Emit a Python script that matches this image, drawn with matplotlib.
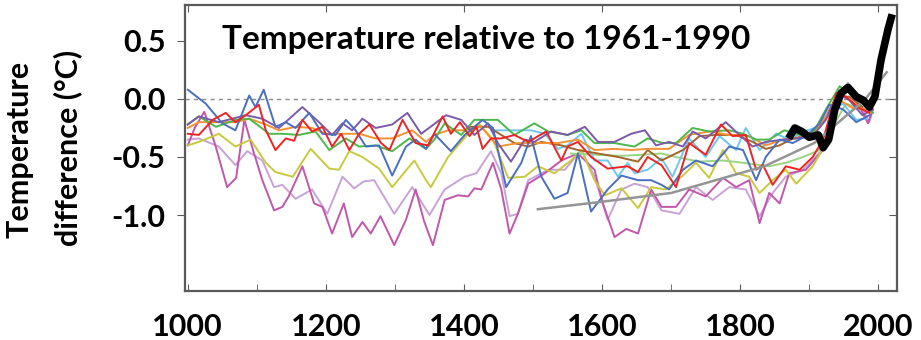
import matplotlib
matplotlib.use("Agg")
import matplotlib.pyplot as plt

# reconstructions: (year, temperature anomaly in deg C)
BLUE = [(1000, 0.08), (1026, -0.04), (1050, -0.21), (1069, -0.27), (1089, 0.03), (1098, -0.07),
        (1110, 0.08), (1127, -0.24), (1142, -0.20), (1156, -0.25), (1176, -0.12), (1195, -0.30),
        (1214, -0.31), (1229, -0.18), (1243, -0.27), (1258, -0.41), (1277, -0.40), (1296, -0.66),
        (1316, -0.41), (1330, -0.35), (1345, -0.43), (1357, -0.30), (1381, -0.45), (1401, -0.31),
        (1427, -0.18), (1442, -0.25), (1461, -0.76), (1483, -0.55), (1497, -0.32), (1512, -0.67),
        (1531, -0.86), (1550, -0.81), (1565, -0.47), (1584, -0.97), (1608, -0.78), (1628, -0.66),
        (1652, -0.70), (1671, -0.70), (1686, -0.74), (1697, -0.78), (1717, -0.61), (1736, -0.53),
        (1760, -0.58), (1784, -0.41), (1804, -0.44), (1823, -0.70), (1837, -0.50), (1857, -0.35),
        (1876, -0.38), (1895, -0.32), (1915, -0.21), (1929, -0.05), (1949, -0.09), (1968, -0.20),
        (1987, -0.14)]
PURPLE = [(1000, -0.22), (1016, -0.15), (1045, -0.20), (1084, -0.14), (1108, -0.17), (1132, -0.25),
          (1166, -0.07), (1190, -0.20), (1209, -0.31), (1224, -0.21), (1238, -0.27), (1253, -0.17),
          (1272, -0.25), (1296, -0.22), (1318, -0.12), (1338, -0.30), (1374, -0.14), (1396, -0.18),
          (1415, -0.31), (1435, -0.21), (1449, -0.38), (1468, -0.54), (1488, -0.35), (1502, -0.37),
          (1526, -0.28), (1550, -0.31), (1575, -0.24), (1594, -0.37), (1618, -0.37), (1642, -0.30),
          (1662, -0.27), (1678, -0.40), (1697, -0.37), (1717, -0.41), (1731, -0.28), (1750, -0.34),
          (1779, -0.20), (1799, -0.31), (1818, -0.41), (1837, -0.37), (1862, -0.35), (1881, -0.34),
          (1905, -0.32), (1924, -0.18), (1941, 0.05), (1958, -0.01), (1977, -0.14), (1992, -0.09)]
RED = [(1000, -0.30), (1016, -0.31), (1036, -0.18), (1055, -0.12), (1069, -0.20), (1084, -0.14),
       (1103, -0.05), (1113, -0.27), (1127, -0.44), (1142, -0.34), (1154, -0.36), (1166, -0.18),
       (1180, -0.28), (1195, -0.24), (1209, -0.41), (1222, -0.30), (1234, -0.44), (1248, -0.30),
       (1263, -0.22), (1280, -0.38), (1292, -0.44), (1311, -0.18), (1330, -0.38), (1348, -0.40),
       (1369, -0.15), (1381, -0.30), (1394, -0.20), (1408, -0.32), (1418, -0.24), (1427, -0.43),
       (1439, -0.34), (1454, -0.34), (1473, -0.31), (1493, -0.37), (1519, -0.28), (1541, -0.53),
       (1550, -0.41), (1565, -0.37), (1584, -0.50), (1608, -0.60), (1637, -0.58), (1652, -0.63),
       (1666, -0.50), (1686, -0.57), (1707, -0.76), (1726, -0.38), (1750, -0.48), (1772, -0.22),
       (1789, -0.32), (1808, -0.31), (1823, -0.61), (1833, -0.57), (1847, -0.74), (1866, -0.58),
       (1886, -0.61), (1905, -0.50), (1920, -0.35), (1939, 0.05), (1953, 0.02), (1973, -0.08),
       (1987, -0.12)]
GREEN = [(1000, -0.22), (1016, -0.15), (1041, -0.24), (1069, -0.18), (1089, -0.17), (1118, -0.30),
         (1137, -0.30), (1161, -0.31), (1185, -0.28), (1205, -0.44), (1229, -0.34), (1248, -0.41),
         (1272, -0.40), (1296, -0.45), (1321, -0.34), (1345, -0.43), (1357, -0.35), (1372, -0.21),
         (1396, -0.31), (1415, -0.18), (1435, -0.18), (1449, -0.18), (1473, -0.31), (1502, -0.21),
         (1522, -0.28), (1550, -0.31), (1570, -0.27), (1589, -0.38), (1618, -0.38), (1647, -0.41),
         (1666, -0.34), (1688, -0.38), (1707, -0.38), (1731, -0.25), (1755, -0.28), (1784, -0.27),
         (1804, -0.30), (1823, -0.35), (1842, -0.35), (1864, -0.27), (1886, -0.31), (1905, -0.30),
         (1924, -0.09), (1944, 0.11), (1963, 0.03), (1982, -0.05), (1992, -0.12)]
ORANGE = [(1000, -0.25), (1016, -0.20), (1045, -0.20), (1069, -0.20), (1089, -0.17), (1113, -0.22),
          (1132, -0.27), (1156, -0.24), (1180, -0.25), (1200, -0.30), (1224, -0.30), (1248, -0.30),
          (1272, -0.34), (1296, -0.34), (1325, -0.27), (1345, -0.37), (1357, -0.31), (1377, -0.27),
          (1401, -0.27), (1425, -0.24), (1449, -0.41), (1478, -0.38), (1507, -0.38), (1536, -0.38),
          (1565, -0.35), (1589, -0.44), (1618, -0.43), (1642, -0.44), (1666, -0.43), (1697, -0.43),
          (1726, -0.31), (1755, -0.28), (1784, -0.31), (1813, -0.32), (1837, -0.40), (1862, -0.35),
          (1881, -0.34), (1905, -0.31), (1924, -0.15), (1944, -0.01), (1963, -0.08), (1982, -0.09)]
BROWN = [(1405, -0.24), (1435, -0.24), (1454, -0.31), (1473, -0.38), (1493, -0.41), (1512, -0.37),
         (1541, -0.40), (1565, -0.44), (1594, -0.47), (1623, -0.50), (1652, -0.54), (1666, -0.44),
         (1686, -0.53), (1717, -0.44), (1741, -0.32), (1765, -0.31), (1794, -0.31), (1818, -0.37),
         (1837, -0.43), (1857, -0.40), (1876, -0.34), (1900, -0.31), (1920, -0.20), (1939, 0.02),
         (1958, 0.02), (1977, -0.07)]
LIGHTBLUE = [(1440, -0.27), (1473, -0.27), (1497, -0.27), (1517, -0.30), (1536, -0.43), (1550, -0.40),
             (1570, -0.30), (1589, -0.53), (1608, -0.53), (1623, -0.67), (1637, -0.55), (1647, -0.64),
             (1666, -0.61), (1686, -0.51), (1702, -0.67), (1726, -0.34), (1750, -0.50), (1770, -0.32),
             (1794, -0.44), (1808, -0.25), (1828, -0.44), (1852, -0.30), (1871, -0.35), (1891, -0.28),
             (1915, -0.24), (1934, -0.09), (1949, -0.04), (1968, -0.18), (1982, -0.17)]
LIGHTGREEN = [(1555, -0.47), (1590, -0.48), (1628, -0.49), (1660, -0.48), (1686, -0.47), (1707, -0.50),
              (1741, -0.54), (1775, -0.53), (1804, -0.55), (1842, -0.58), (1866, -0.55), (1891, -0.50),
              (1915, -0.44), (1934, -0.24), (1953, -0.04), (1977, -0.09)]
YELLOW = [(1000, -0.40), (1016, -0.37), (1045, -0.30), (1069, -0.41), (1091, -0.35), (1113, -0.55),
          (1127, -0.63), (1152, -0.67), (1178, -0.43), (1205, -0.60), (1219, -0.61), (1234, -0.45),
          (1253, -0.50), (1277, -0.60), (1296, -0.76), (1328, -0.53), (1345, -0.70), (1352, -0.76),
          (1377, -0.50), (1406, -0.30), (1423, -0.22), (1442, -0.35), (1464, -0.68), (1488, -0.67),
          (1507, -0.58), (1531, -0.64), (1555, -0.53), (1570, -0.44), (1589, -0.70), (1604, -0.83),
          (1628, -0.77), (1652, -0.94), (1671, -0.76), (1692, -0.78), (1717, -0.66), (1736, -0.55),
          (1755, -0.68), (1775, -0.44), (1794, -0.64), (1813, -0.67), (1828, -0.81), (1847, -0.70),
          (1866, -0.61), (1881, -0.73), (1905, -0.58), (1924, -0.38), (1941, -0.04), (1956, 0.09),
          (1973, -0.07), (1992, -0.12)]
LAVENDER = [(1000, -0.35), (1016, -0.34), (1045, -0.41), (1069, -0.57), (1086, -0.45), (1108, -0.53),
            (1125, -0.76), (1137, -0.74), (1156, -0.86), (1180, -0.78), (1202, -0.99), (1224, -0.67),
            (1241, -0.77), (1255, -0.71), (1270, -0.70), (1299, -0.99), (1325, -0.76), (1350, -1.00),
            (1372, -0.78), (1401, -0.67), (1418, -0.64), (1439, -0.45), (1454, -0.64), (1466, -1.01),
            (1478, -0.99), (1493, -0.70), (1522, -0.61), (1546, -0.61), (1570, -0.44), (1589, -0.67),
            (1608, -1.04), (1628, -0.78), (1647, -0.73), (1666, -0.76), (1686, -0.96), (1712, -0.99),
            (1736, -0.76), (1760, -0.87), (1784, -0.76), (1808, -0.78), (1828, -1.01), (1847, -0.81),
            (1866, -0.67), (1891, -0.61), (1920, -0.43), (1939, -0.09), (1956, 0.14), (1973, -0.04),
            (1987, -0.20), (1992, -0.09)]
MAGENTA = [(1000, -0.40), (1010, -0.25), (1024, -0.11), (1040, -0.40), (1057, -0.76), (1070, -0.68),
           (1082, -0.18), (1095, -0.45), (1108, -0.70), (1125, -0.96), (1137, -0.93), (1146, -0.84),
           (1166, -0.58), (1183, -0.90), (1195, -0.93), (1209, -1.16), (1226, -0.90), (1238, -1.19),
           (1253, -1.06), (1265, -1.16), (1279, -1.01), (1299, -1.26), (1316, -1.04), (1330, -0.78),
           (1342, -1.05), (1355, -1.26), (1372, -0.87), (1391, -0.83), (1406, -0.84), (1415, -0.77),
           (1425, -0.78), (1442, -0.55), (1454, -0.78), (1466, -1.16), (1478, -0.99), (1493, -0.73),
           (1517, -0.64), (1541, -0.53), (1565, -0.47), (1589, -0.61), (1601, -0.90), (1618, -1.19),
           (1635, -1.12), (1652, -1.16), (1671, -0.78), (1686, -0.93), (1707, -0.93), (1726, -0.78),
           (1750, -0.84), (1775, -0.68), (1794, -0.76), (1813, -0.70), (1828, -1.07), (1842, -0.81),
           (1857, -0.90), (1871, -0.64), (1895, -0.61), (1920, -0.44), (1934, -0.12), (1953, 0.11),
           (1968, -0.01), (1985, -0.21), (1992, -0.09)]

# instrumental record (thick black) and the grey trend curve
INSTRUMENTAL = [(1870, -0.34), (1879, -0.25), (1889, -0.28), (1900, -0.33), (1913, -0.31), (1920, -0.42),
                (1928, -0.35), (1937, -0.09), (1946, 0.05), (1956, 0.10), (1968, 0.02), (1978, -0.01),
                (1987, -0.07), (1995, 0.02), (2004, 0.34), (2014, 0.60), (2020, 0.73)]
GREY_TREND = [(1507, -0.95), (1594, -0.89), (1700, -0.81), (1835, -0.58), (1907, -0.38), (1980, -0.01),
              (2012, 0.23)]

SERIES = [
    (LAVENDER, "#c9a3d6"),
    (MAGENTA, "#c257a9"),
    (YELLOW, "#c9c93e"),
    (LIGHTGREEN, "#9ad484"),
    (LIGHTBLUE, "#6ec8f0"),
    (BROWN, "#a3642e"),
    (ORANGE, "#f39232"),
    (GREEN, "#4cb84c"),
    (PURPLE, "#7b5aa9"),
    (BLUE, "#4a6fc0"),
    (RED, "#ee2424"),
]

TITLE = "Temperature relative to 1961-1990"
YLABEL_1 = "Temperature"
YLABEL_2 = "difference (°C)"
X_MAJOR = [1000, 1200, 1400, 1600, 1800, 2000]
X_MINOR = [1100, 1300, 1500, 1700, 1900]
Y_TICKS = [0.5, 0.0, -0.5, -1.0]

plt.rcParams["font.family"] = ["Lato", "DejaVu Sans"]
plt.rcParams["axes.unicode_minus"] = False

fig = plt.figure(figsize=(9.21, 3.4), dpi=100)
ax = fig.add_axes([185 / 921, 1 - 291 / 340, 712 / 921, 286 / 340])

for data, color in SERIES:
    yrs = [p[0] for p in data]
    vals = [p[1] for p in data]
    ax.plot(yrs, vals, color=color, lw=1.4, solid_joinstyle="round", zorder=2)

ax.plot([p[0] for p in GREY_TREND], [p[1] for p in GREY_TREND], color="#959595", lw=1.8, zorder=3)
ax.plot([p[0] for p in INSTRUMENTAL], [p[1] for p in INSTRUMENTAL], color="black", lw=5.5,
        solid_joinstyle="round", solid_capstyle="butt", zorder=4)

ax.axhline(0, color="#8a8a8a", lw=1.0, ls=(0, (3, 3)), zorder=1)

ax.set_xlim(996, 2027)
ax.set_ylim(-1.655, 0.81)

for sp in ax.spines.values():
    sp.set_color("#5a5a5a")
    sp.set_linewidth(1.6)

ax.set_xticks(X_MAJOR)
ax.set_xticklabels([str(x) for x in X_MAJOR], fontsize=22, fontweight="bold")
ax.set_xticks(X_MINOR, minor=True)
ax.tick_params(axis="x", which="major", direction="in", length=5, color="#5a5a5a", top=True, pad=16)
ax.tick_params(axis="x", which="minor", direction="in", length=5, color="#5a5a5a", top=False)

ax.set_yticks(Y_TICKS)
ax.set_yticklabels([f"{v:.1f}" for v in Y_TICKS], fontsize=22, fontweight="bold")
ax.tick_params(axis="y", direction="out", length=6, color="#5a5a5a", pad=8)

sec = ax.secondary_yaxis("right")
sec.set_yticks(Y_TICKS[1:])
sec.set_yticklabels([])
sec.tick_params(direction="in", length=6, color="#5a5a5a")
sec.spines["right"].set_visible(False)

ax.text(0.052, 0.878, TITLE, transform=ax.transAxes, fontsize=24, fontweight="bold",
        va="center", ha="left", zorder=5)

fig.text(20 / 921, 1 - 149 / 340, YLABEL_1, rotation=90, fontsize=22, fontweight="bold",
         ha="center", va="center")
fig.text(68 / 921, 1 - 148 / 340, YLABEL_2, rotation=90, fontsize=22, fontweight="bold",
         ha="center", va="center")

fig.savefig("out.png", dpi=100)
